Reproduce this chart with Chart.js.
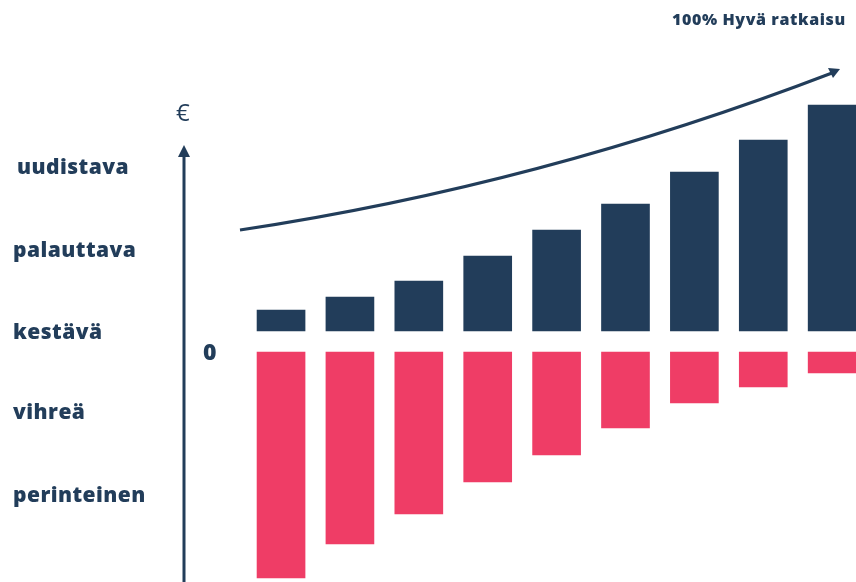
<!DOCTYPE html>
<html>
<head>
<meta charset="utf-8">
<script src="https://cdn.jsdelivr.net/npm/chart.js@4.4.1/dist/chart.umd.min.js"></script>
<style>
  html, body { margin: 0; padding: 0; background: #fff; overflow: hidden; }
  #wrap { position: relative; width: 856px; height: 582px; overflow: hidden; }
  #myChart { position: absolute; left: 0; top: 0; }
  .lbl { position: absolute; color: #223d5a; font-family: "Open Sans", sans-serif; font-weight: 800; white-space: nowrap; line-height: 1; }
</style>
</head>
<body>
<div id="wrap">
  <canvas id="myChart" width="880" height="582"></canvas>
  <div id="levels"></div>
  <div class="lbl" style="left:672px; top:11px; font-size:16px; letter-spacing:0.6px;">100% Hyvä ratkaisu</div>
  <div class="lbl" style="left:176px; top:100px; font-size:24px; font-weight:400;">€</div>
  <div class="lbl" style="left:203px; top:340px; font-size:23px;">0</div>
</div>
<script>
var categories = ['1', '2', '3', '4', '5', '6', '7', '8', '9'];
var growth = [21, 34, 50, 75, 101, 127, 159, 191, 226];
var decline = [226, 192, 162, 130, 103, 76, 51, 35, 21];
var levels = ['uudistava', 'palauttava', 'kestävä', 'vihreä', 'perinteinen'];
var levelTops = [156, 239, 321, 401, 484];

var navy = '#223d5a';
var pink = '#ef3d66';
var gap = 10.5; // half of the white band around zero

// left side level names
var levelBox = document.getElementById('levels');
levels.forEach(function(name, i) {
    var d = document.createElement('div');
    d.className = 'lbl';
    d.style.left = (i == 0 ? 17 : 13) + 'px';
    d.style.top = levelTops[i] + 'px';
    d.style.fontSize = '21px';
    d.style.letterSpacing = '0.45px';
    d.textContent = name;
    levelBox.appendChild(d);
});

var decoPlugin = {
    id: 'deco',
    afterDraw: function(chart) {
        var ctx = chart.ctx;
        ctx.save();
        ctx.strokeStyle = navy;
        ctx.fillStyle = navy;
        ctx.lineWidth = 3;

        // vertical axis arrow
        ctx.beginPath();
        ctx.moveTo(184, 582);
        ctx.lineTo(184, 156);
        ctx.stroke();
        ctx.beginPath();
        ctx.moveTo(184, 145);
        ctx.lineTo(178, 157);
        ctx.lineTo(190, 157);
        ctx.closePath();
        ctx.fill();

        // growth curve
        ctx.beginPath();
        ctx.moveTo(240, 230);
        ctx.quadraticCurveTo(540, 185, 832, 73);
        ctx.stroke();
        ctx.beginPath();
        ctx.moveTo(840, 69);
        ctx.lineTo(828, 68);
        ctx.lineTo(833, 78);
        ctx.closePath();
        ctx.fill();
        ctx.restore();
    }
};

var ctx = document.getElementById('myChart').getContext('2d');
var chart = new Chart(ctx, {
    type: 'bar',
    data: {
        labels: categories,
        datasets: [{
            label: 'growth',
            data: growth.map(function(v) { return [gap, gap + v]; }),
            backgroundColor: navy,
            grouped: false,
            barThickness: 48
        }, {
            label: 'decline',
            data: decline.map(function(v) { return [-gap, -gap - v]; }),
            backgroundColor: pink,
            grouped: false,
            barThickness: 48
        }]
    },
    options: {
        responsive: false,
        animation: false,
        layout: { padding: { left: 246.6, right: 13.4, top: 0, bottom: 0 } },
        plugins: { legend: { display: false }, tooltip: { enabled: false } },
        scales: {
            x: { display: false },
            y: { display: false, min: -240.5, max: 341.5 }
        }
    },
    plugins: [decoPlugin]
});
</script>
</body>
</html>
